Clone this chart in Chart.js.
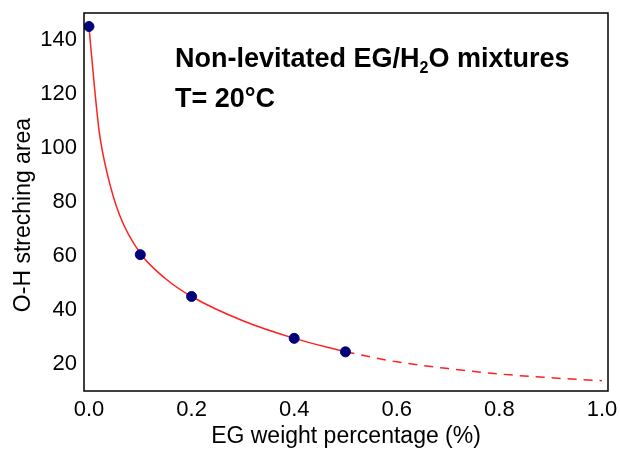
<!DOCTYPE html>
<html>
<head>
    <meta charset="UTF-8">
    <title>O-H streching area</title>
    <script src="https://cdn.jsdelivr.net/npm/chart.js@4.4.0/dist/chart.umd.min.js"></script>
</head>
<style>
    body { margin: 0; background: #fff; }
</style>
<body>
    <canvas id="wykres" width="620" height="450"></canvas>

    <script>
        // measured points
        var egX = [0, 0.1, 0.2, 0.4, 0.5];
        var ohArea = [145, 60.5, 45, 29.5, 24.5];
        // fitted curve (solid part, then dashed extrapolation)
        var fitX = [0, 0.01, 0.02, 0.035, 0.06, 0.1, 0.15, 0.2, 0.3, 0.4, 0.5];
        var fitY = [145, 124, 106, 91, 75, 61, 51.5, 45, 36, 29.5, 24.5];
        var extX = [0.5, 0.6, 0.7, 0.8, 0.9, 1.0];
        var extY = [24.5, 20.8, 18.3, 16.3, 14.9, 13.8];
        var xTicks = [0, 0.2, 0.4, 0.6, 0.8, 1.0];
        var yTicks = [20, 40, 60, 80, 100, 120, 140];

        function pts(xs, ys) { return xs.map((x, i) => ({x: x, y: ys[i]})); }

        const font = 'Liberation Sans, Arial, sans-serif';

        const frame = {
            id: 'frame',
            afterDraw(chart) {
                const c = chart.ctx, a = chart.chartArea;
                c.save();
                c.strokeStyle = '#000';
                c.lineWidth = 1.5;
                c.strokeRect(a.left, a.top, a.right - a.left, a.bottom - a.top);
                // annotation text
                c.fillStyle = '#000';
                c.font = 'bold 27px ' + font;
                c.textBaseline = 'alphabetic';
                let x = 175, y = 67;
                let s1 = 'Non-levitated EG/H';
                c.fillText(s1, x, y);
                x += c.measureText(s1).width;
                c.font = 'bold 16px ' + font;
                c.fillText('2', x, y + 6);
                x += c.measureText('2').width;
                c.font = 'bold 27px ' + font;
                c.fillText('O mixtures', x, y);
                c.fillText('T= 20°C', 175, 107);
                // y axis title
                c.font = '23px ' + font;
                c.textAlign = 'center';
                c.textBaseline = 'middle';
                c.translate(24, 215);
                c.rotate(-Math.PI / 2);
                c.fillText('O-H streching area', 0, 0);
                c.restore();
            }
        };

        new Chart(document.getElementById('wykres'), {
            type: 'scatter',
            data: {
                datasets: [{
                    label: 'fit',
                    data: pts(fitX, fitY),
                    showLine: true,
                    borderColor: '#ff2020',
                    borderWidth: 1.5,
                    pointRadius: 0,
                    cubicInterpolationMode: 'monotone',
                    order: 2
                }, {
                    label: 'extrapolation',
                    data: pts(extX, extY),
                    showLine: true,
                    borderColor: '#ff2020',
                    borderWidth: 1.5,
                    borderDash: [9, 7],
                    pointRadius: 0,
                    cubicInterpolationMode: 'monotone',
                    order: 2
                }, {
                    label: 'data',
                    data: pts(egX, ohArea),
                    backgroundColor: '#00007a',
                    borderColor: '#00007a',
                    pointRadius: 5,
                    order: 1
                }]
            },
            options: {
                responsive: false,
                animation: false,
                layout: {padding: {top: 13, right: 12, left: 0, bottom: 0}},
                plugins: {legend: {display: false}, tooltip: {enabled: false}},
                scales: {
                    x: {
                        type: 'linear', min: -0.0097, max: 1.0117,
                        grid: {display: false, drawTicks: false},
                        border: {display: false},
                        afterBuildTicks: s => { s.ticks = xTicks.map(v => ({value: v})); },
                        afterFit: s => { s.height = 59; s.paddingLeft = 0; s.paddingRight = 0; },
                        ticks: {color: '#000', font: {family: font, size: 22}, padding: 6,
                                maxRotation: 0, callback: v => v.toFixed(1)},
                        title: {display: true, text: 'EG weight percentage (%)', color: '#000',
                                font: {family: font, size: 23}, padding: {top: 0, bottom: 0}}
                    },
                    y: {
                        min: 10, max: 150,
                        grid: {display: false, drawTicks: false},
                        border: {display: false},
                        afterBuildTicks: s => { s.ticks = yTicks.map(v => ({value: v})); },
                        afterFit: s => { s.width = 84; s.paddingTop = 0; s.paddingBottom = 0; },
                        ticks: {color: '#000', font: {family: font, size: 22}, padding: 7}
                    }
                }
            },
            plugins: [frame]
        });
    </script>
</body>
</html>
